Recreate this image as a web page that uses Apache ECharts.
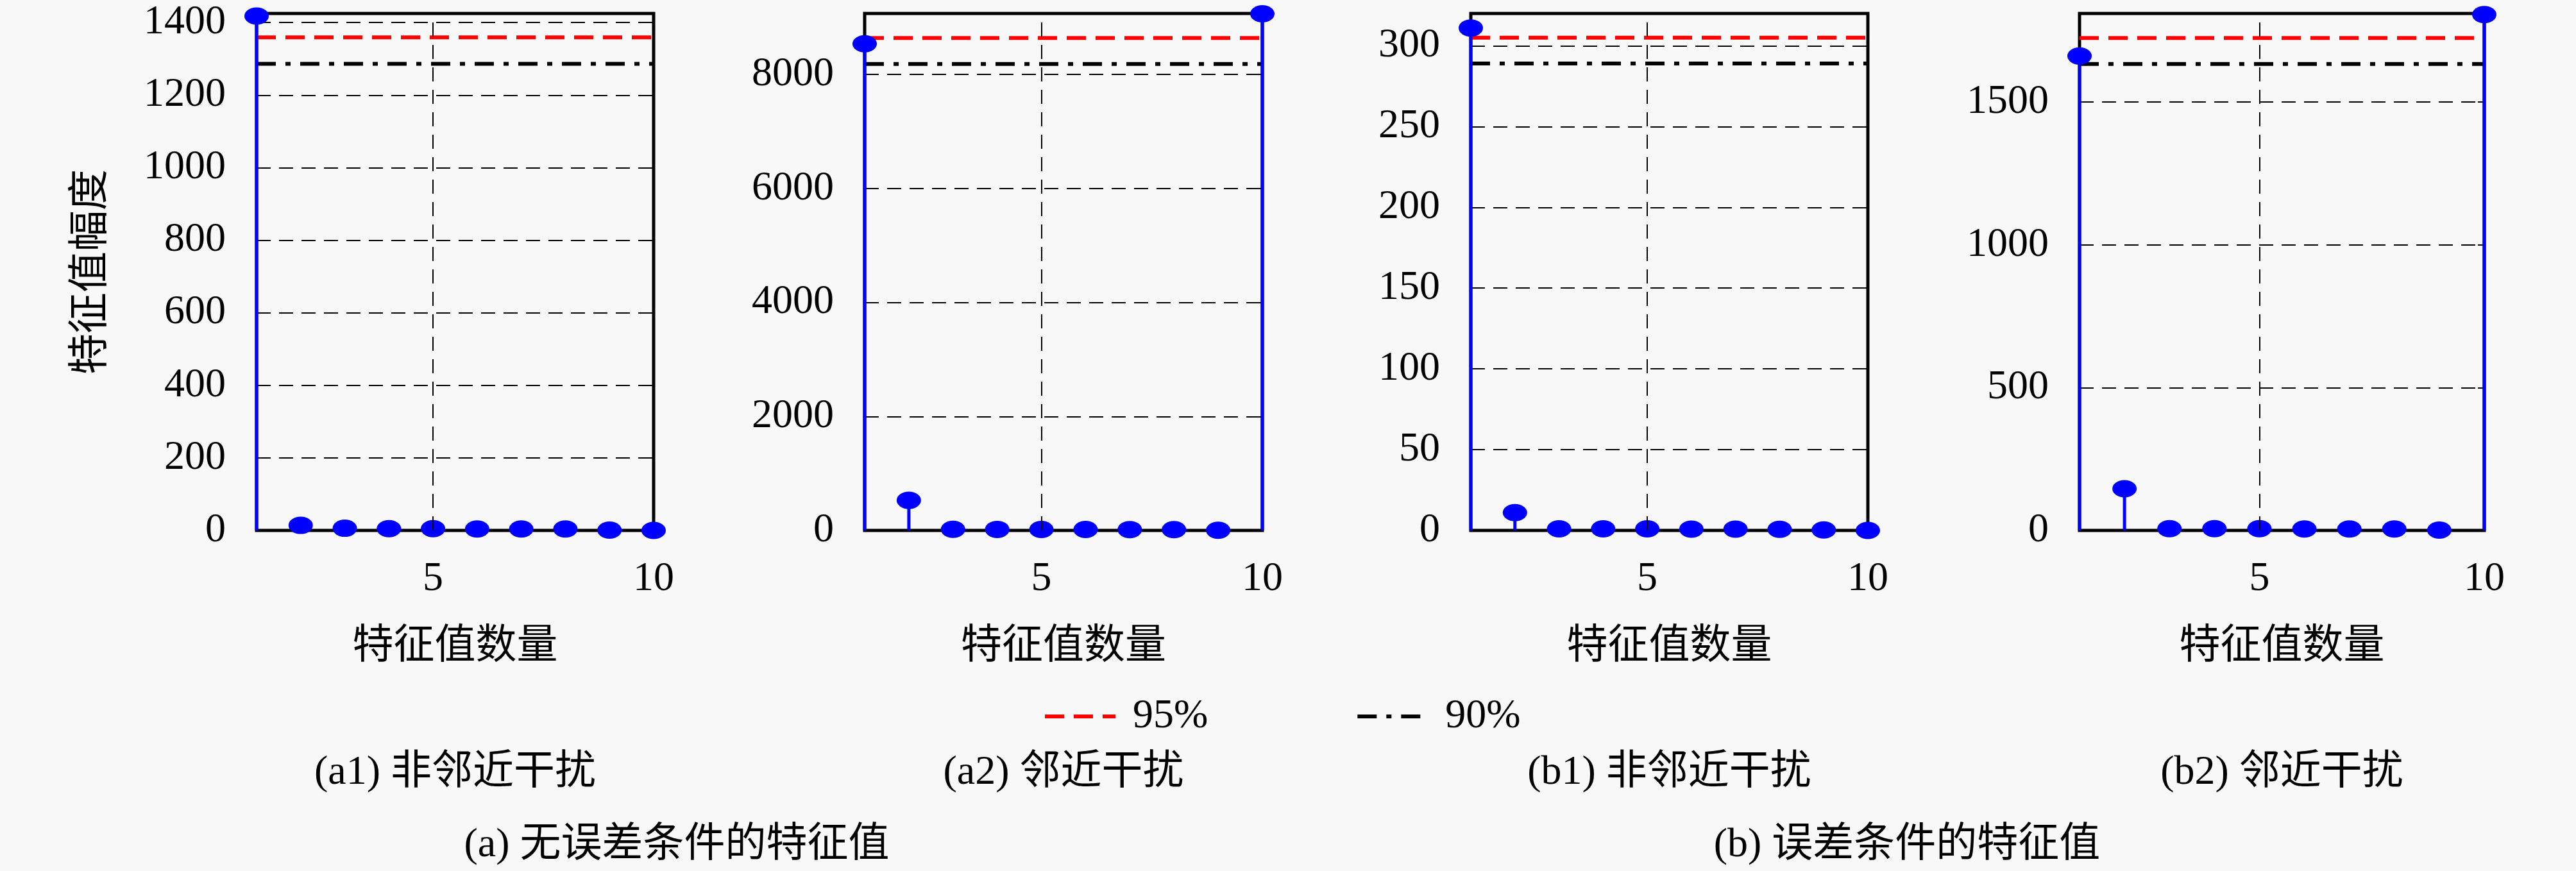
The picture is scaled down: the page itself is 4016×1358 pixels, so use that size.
<!DOCTYPE html>
<html>
<head>
<meta charset="utf-8">
<script src="https://cdn.jsdelivr.net/npm/echarts@6/dist/echarts.min.js"></script>
<style>
  html, body { margin: 0; padding: 0; background: #f8f8f8; }
  #chart { width: 4016px; height: 1358px; }
</style>
</head>
<body>
<div id="chart"></div>
<script>
// 特征值序号
const eigIndex = [1, 2, 3, 4, 5, 6, 7, 8, 9, 10];
// 各子图特征值幅度
const eigA1 = [1418, 14, 6, 5, 5, 4, 4, 4, 1, 0];
const eigA2 = [8539, 528, 20, 18, 17, 16, 15, 14, 2, 9065];
const eigB1 = [311, 11, 1, 1, 1, 0.8, 0.8, 0.7, 0.3, 0];
const eigB2 = [1661, 146, 6, 6, 6, 5, 5, 5, 1, 1806];
// 能量门限
const th95 = [1359, 8640, 305, 1724];
const th90 = [1286, 8183, 289, 1633];
// 坐标轴
const yMax = [1425, 9070, 320, 1810];
const yStep = [200, 2000, 50, 500];
const xTickLabels = ['5', '10'];
const legendNames = ['95%', '90%'];
const subCaptions = ['(a1) 非邻近干扰', '(a2) 邻近干扰', '(b1) 非邻近干扰', '(b2) 邻近干扰'];
const groupCaptions = ['(a) 无误差条件的特征值', '(b) 误差条件的特征值'];

const panels = [eigA1, eigA2, eigB1, eigB2];
const boxes = [
  { left: 400, width: 619 },
  { left: 1348, width: 620 },
  { left: 2293, width: 619 },
  { left: 3242, width: 631 }
];
const TOP = 21, BOTTOM = 827;
const FONT = "'Liberation Serif', 'Noto Sans CJK SC', serif";
const BLUE = '#0000ff';
const gridDash = [22, 13];

const chart = echarts.init(document.getElementById('chart'));

const grid = [], xAxis = [], yAxis = [], series = [], graphic = [];

panels.forEach((vals, i) => {
  grid.push({
    left: boxes[i].left, width: boxes[i].width, top: TOP, height: BOTTOM - TOP,
    show: true, borderColor: '#000', borderWidth: 5, backgroundColor: 'transparent'
  });
  xAxis.push({
    type: 'value', gridIndex: i, min: 1, max: 10, interval: 1,
    axisLine: { show: false }, axisTick: { show: false }, splitLine: { show: false },
    axisLabel: {
      margin: 44, fontSize: 64, fontFamily: FONT, color: '#000',
      formatter: v => xTickLabels.includes(String(v)) ? String(v) : ''
    },
    name: '特征值数量', nameLocation: 'middle', nameGap: 150,
    nameTextStyle: { fontSize: 64, fontFamily: FONT, color: '#000' }
  });
  const y = {
    type: 'value', gridIndex: i, min: 0, max: yMax[i], interval: yStep[i],
    axisLine: { show: false },
    axisTick: { show: true, inside: true, length: 10, lineStyle: { color: '#000', width: 2 } },
    axisLabel: {
      margin: 48, fontSize: 64, fontFamily: FONT, color: '#000', showMaxLabel: false,
      formatter: v => String(v)
    },
    splitLine: { show: true, lineStyle: { color: '#000', width: 2, type: gridDash } }
  };
  if (i === 0) {
    y.name = '特征值幅度';
    y.nameLocation = 'middle';
    y.nameGap = 225;
    y.nameTextStyle = { fontSize: 64, fontFamily: FONT, color: '#000' };
  }
  yAxis.push(y);

  const pts = eigIndex.map((x, k) => [x, vals[k]]);
  // 茎
  series.push({
    type: 'bar', xAxisIndex: i, yAxisIndex: i, barWidth: 5, clip: false,
    itemStyle: { color: BLUE }, data: pts, z: 3,
    markLine: {
      silent: true, symbol: 'none', label: { show: false },
      lineStyle: { color: '#000', width: 2, type: gridDash },
      data: [{ xAxis: 5 }]
    }
  });
  // 门限线
  series.push({
    name: legendNames[0], type: 'line', xAxisIndex: i, yAxisIndex: i,
    symbol: 'none', z: 2,
    lineStyle: { color: '#ff0000', width: 6, type: [30, 15] },
    itemStyle: { color: '#ff0000' },
    data: [[1, th95[i]], [10, th95[i]]]
  });
  series.push({
    name: legendNames[1], type: 'line', xAxisIndex: i, yAxisIndex: i,
    symbol: 'none', z: 2,
    lineStyle: { color: '#000', width: 6, type: [30, 15, 8, 15] },
    itemStyle: { color: '#000' },
    data: [[1, th90[i]], [10, th90[i]]]
  });
  // 圆点
  series.push({
    type: 'scatter', xAxisIndex: i, yAxisIndex: i, clip: false, z: 4,
    symbol: 'circle', symbolSize: [38, 27],
    itemStyle: { color: BLUE, opacity: 1 }, data: pts
  });

  graphic.push({
    type: 'text', x: boxes[i].left + boxes[i].width / 2, y: 1205,
    style: { text: subCaptions[i], font: '64px ' + FONT, fill: '#000', align: 'center', verticalAlign: 'middle' }
  });
});

// 右侧刻度
panels.forEach((vals, i) => {
  yAxis.push({
    type: 'value', gridIndex: i, position: 'right', min: 0, max: yMax[i], interval: yStep[i],
    axisLine: { show: false }, axisLabel: { show: false }, splitLine: { show: false },
    axisTick: { show: true, inside: true, length: 10, lineStyle: { color: '#000', width: 2 } }
  });
});

graphic.push({
  type: 'text', x: 1055, y: 1318,
  style: { text: groupCaptions[0], font: '64px ' + FONT, fill: '#000', align: 'center', verticalAlign: 'middle' }
});
graphic.push({
  type: 'text', x: 2973, y: 1318,
  style: { text: groupCaptions[1], font: '64px ' + FONT, fill: '#000', align: 'center', verticalAlign: 'middle' }
});

chart.setOption({
  backgroundColor: '#f8f8f8',
  animation: false,
  legend: {
    data: legendNames, left: 1621, top: 1080,
    itemWidth: 110, itemHeight: 20, itemGap: 230,
    itemStyle: { opacity: 0 },
    lineStyle: { width: 6 },
    textStyle: { fontSize: 64, fontFamily: FONT, color: '#000', padding: [0, 0, 0, 22] }
  },
  grid, xAxis, yAxis, series, graphic
});
</script>
</body>
</html>
